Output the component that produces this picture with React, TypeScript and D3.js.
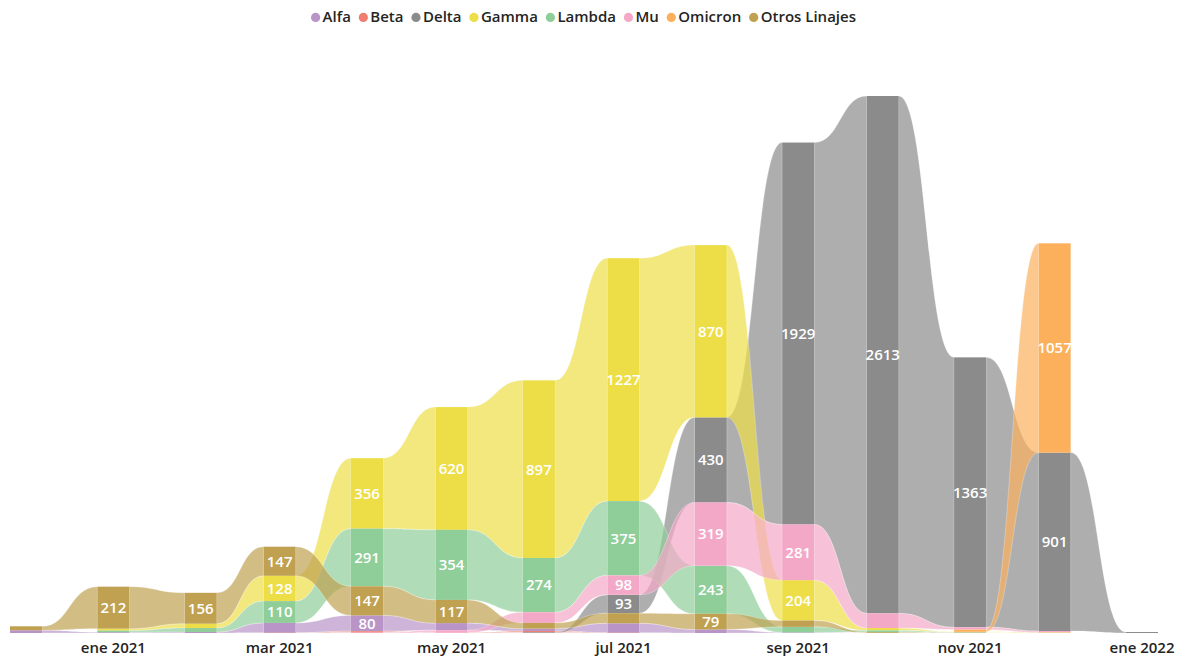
import React, { useEffect, useRef } from "react";
import * as d3 from "d3";

// ---- Data ----
const months = [
  "2020-12-01", "2021-01-01", "2021-02-01", "2021-03-01", "2021-04-01", "2021-05-01", "2021-06-01",
  "2021-07-01", "2021-08-01", "2021-09-01", "2021-10-01", "2021-11-01", "2021-12-01", "2022-01-01",
];

const seriesNames = ["Alfa", "Beta", "Delta", "Gamma", "Lambda", "Mu", "Omicron", "Otros Linajes"];
const seriesColors = ["#B994C7", "#F07E6E", "#8B8B8B", "#EDDE47", "#8FCD99", "#F4A8C8", "#FCB05C", "#BFA151"];

const alfa = [14, 4, 5, 50, 80, 36, 12, 48, 18, 3, 1, 1, 0, 0];
const beta = [0, 0, 0, 1, 7, 2, 7, 1, 0, 0, 0, 0, 0, 0];
const delta = [0, 0, 0, 0, 0, 0, 3, 93, 430, 1929, 2613, 1363, 901, 5];
const gamma = [0, 10, 22, 128, 356, 620, 897, 1227, 870, 204, 12, 2, 3, 0];
const lambda = [0, 8, 20, 110, 291, 354, 274, 375, 243, 28, 8, 2, 0, 0];
const mu = [0, 0, 0, 0, 2, 12, 54, 98, 319, 281, 74, 12, 7, 0];
const omicron = [0, 0, 0, 0, 0, 0, 0, 0, 0, 0, 0, 11, 1057, 0];
const otros = [20, 212, 156, 147, 147, 117, 29, 51, 79, 32, 4, 1, 0, 0];

const seriesValues = [alfa, beta, delta, gamma, lambda, mu, omicron, otros];

const tickDates = ["2021-01-01", "2021-03-01", "2021-05-01", "2021-07-01", "2021-09-01", "2021-11-01", "2022-01-01"];
const tickLabels = ["ene 2021", "mar 2021", "may 2021", "jul 2021", "sep 2021", "nov 2021", "ene 2022"];

// ---- Layout ----
const W = 1189;
const H = 658;
const BAR_W = 32;
const FONT = "'Open Sans', 'Noto Sans', sans-serif";

export default function App() {
  const ref = useRef<SVGSVGElement>(null);

  useEffect(() => {
    const svg = d3.select(ref.current);
    svg.selectAll("*").remove();
    const parse = d3.timeParse("%Y-%m-%d");
    const dates = months.map((m) => parse(m) as Date);

    const x = d3.scaleTime().domain([dates[0], dates[dates.length - 1]]).range([26, 1142]);
    const totals = dates.map((_, i) => d3.sum(seriesValues, (s) => s[i]));
    const y = d3.scaleLinear().domain([0, d3.max(totals) as number]).range([633, 96]);

    // stacking: largest on top
    const pos: { y0: number; y1: number }[][] = seriesValues.map(() => []);
    dates.forEach((_, i) => {
      const order = d3.range(seriesValues.length).sort((a, b) => seriesValues[b][i] - seriesValues[a][i] || a - b);
      let cum = totals[i];
      order.forEach((s) => {
        const v = seriesValues[s][i];
        pos[s][i] = { y1: cum, y0: cum - v };
        cum -= v;
      });
    });

    // ribbons (only between months where the series is present on both sides)
    const gR = svg.append("g");
    seriesValues.forEach((vals, s) => {
      for (let i = 0; i < dates.length - 1; i++) {
        if (vals[i] <= 0 || vals[i + 1] <= 0) continue;
        const xa = x(dates[i]) + BAR_W / 2;
        const xb = x(dates[i + 1]) - BAR_W / 2;
        const xm = (xa + xb) / 2;
        const t0 = y(pos[s][i].y1), b0 = y(pos[s][i].y0);
        const t1 = y(pos[s][i + 1].y1), b1 = y(pos[s][i + 1].y0);
        const p = d3.path();
        p.moveTo(xa, t0);
        p.bezierCurveTo(xm, t0, xm, t1, xb, t1);
        p.lineTo(xb, b1);
        p.bezierCurveTo(xm, b1, xm, b0, xa, b0);
        p.closePath();
        gR.append("path")
          .attr("d", p.toString())
          .attr("fill", seriesColors[s])
          .attr("fill-opacity", 0.7)
          .attr("stroke", "#fff")
          .attr("stroke-opacity", 0.35)
          .attr("stroke-width", 0.8);
      }
    });

    // bars
    const gB = svg.append("g");
    seriesValues.forEach((vals, s) => {
      dates.forEach((d, i) => {
        if (vals[i] <= 0) return;
        gB.append("rect")
          .attr("x", x(d) - BAR_W / 2)
          .attr("width", BAR_W)
          .attr("y", y(pos[s][i].y1))
          .attr("height", y(pos[s][i].y0) - y(pos[s][i].y1))
          .attr("fill", seriesColors[s]);
      });
    });

    // labels
    const gL = svg.append("g")
      .attr("font-family", FONT)
      .attr("font-size", 15)
      .attr("font-weight", 600)
      .attr("fill", "#fff")
      .attr("text-anchor", "middle");
    seriesValues.forEach((vals, s) => {
      dates.forEach((d, i) => {
        const h = y(pos[s][i].y0) - y(pos[s][i].y1);
        if (h < 15.4) return;
        gL.append("text")
          .attr("x", x(d))
          .attr("y", (y(pos[s][i].y0) + y(pos[s][i].y1)) / 2)
          .attr("dy", "0.36em")
          .text(String(vals[i]));
      });
    });

    // x axis labels
    const gA = svg.append("g")
      .attr("font-family", FONT)
      .attr("font-size", 15)
      .attr("font-weight", 600)
      .attr("fill", "#252423")
      .attr("text-anchor", "middle");
    tickDates.forEach((t, k) => {
      gA.append("text").attr("x", x(parse(t) as Date)).attr("y", 653).text(tickLabels[k]);
    });

    // legend
    const gLeg = svg.append("g")
      .attr("font-family", FONT)
      .attr("font-size", 15)
      .attr("font-weight", 600)
      .attr("fill", "#252423");
    const R = 4.6;
    const items = seriesNames.map((name, s) => {
      const g = gLeg.append("g");
      g.append("circle").attr("cx", 0).attr("cy", 17.4).attr("r", R).attr("fill", seriesColors[s]);
      const t = g.append("text").attr("x", 7).attr("y", 17).attr("dy", "0.35em").text(name);
      const w = (t.node() as SVGTextElement).getComputedTextLength();
      return { g, w };
    });
    const gapAfter = 12.5;
    let cx = 311 + R;
    items.forEach((it) => {
      it.g.attr("transform", `translate(${cx},0)`);
      cx += 7 + it.w + gapAfter;
    });
  }, []);

  return (
    <svg
      ref={ref}
      width={W}
      height={H}
      style={{ position: "absolute", left: 0, top: 0, background: "#fff" }}
    />
  );
}
